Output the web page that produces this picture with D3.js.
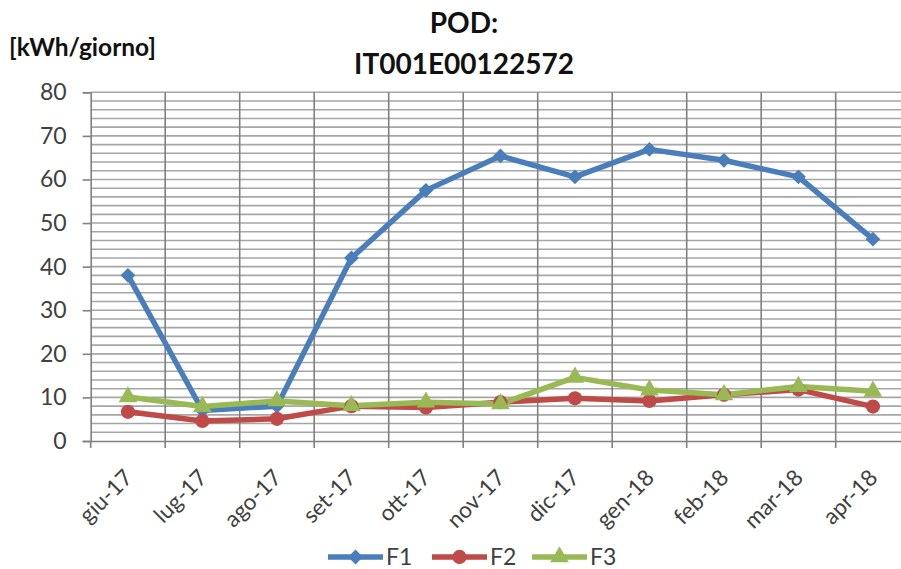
<!DOCTYPE html>
<html>
<head>
<meta charset="utf-8">
<script src="https://cdn.jsdelivr.net/npm/d3@7"></script>
<style>
  body { margin: 0; background: #fff; }
  svg { display: block; font-family: Lato, "Open Sans", sans-serif; }
</style>
</head>
<body>
<svg id="chart" width="901" height="569"></svg>
<script>
// Dati
const months = ["giu-17", "lug-17", "ago-17", "set-17", "ott-17", "nov-17", "dic-17", "gen-18", "feb-18", "mar-18", "apr-18"];
const f1 = [38, 7, 8, 42, 57.5, 65.4, 60.6, 66.9, 64.4, 60.6, 46.3];
const f2 = [6.7, 4.6, 5.1, 8.0, 7.7, 8.9, 9.8, 9.2, 10.6, 11.8, 7.9];
const f3 = [10.1, 7.9, 9.2, 8.1, 8.9, 8.5, 14.6, 11.7, 10.6, 12.5, 11.4];
const yTicks = [0, 10, 20, 30, 40, 50, 60, 70, 80];

// diamante = quadrato ruotato di 45 gradi
const series = [
  { name: "F1", values: f1, color: "#4A7EBB", symbol: d3.symbolSquare, size: 110, rot: 45 },
  { name: "F2", values: f2, color: "#BE4B48", symbol: d3.symbolCircle, size: 160, rot: 0 },
  { name: "F3", values: f3, color: "#98B954", symbol: d3.symbolTriangle, size: 150, rot: 0 },
];

const plotLeft = 90.7, plotTop = 92.3, plotBottom = 441, step = 74.5;
const plotRight = plotLeft + step * months.length;

const svg = d3.select("#chart");

const x = d3.scaleBand().domain(months).range([plotLeft, plotRight]);
const y = d3.scaleLinear().domain([0, 80]).range([plotBottom, plotTop]);

// griglia orizzontale (ogni 2)
svg.append("g")
  .selectAll("line")
  .data(d3.range(2, 81, 2))
  .join("line")
  .attr("x1", plotLeft).attr("x2", plotRight)
  .attr("y1", (d) => y(d)).attr("y2", (d) => y(d))
  .attr("stroke", "#a6a6a6")
  .attr("stroke-width", 1.6);

// griglia verticale
svg.append("g")
  .selectAll("line")
  .data(d3.range(1, months.length + 1))
  .join("line")
  .attr("x1", (d) => plotLeft + step * d)
  .attr("x2", (d) => plotLeft + step * d)
  .attr("y1", plotTop).attr("y2", plotBottom)
  .attr("stroke", "#808080")
  .attr("stroke-width", 1.6);

// asse Y
const yAxis = svg.append("g")
  .attr("transform", `translate(${plotLeft},0)`)
  .call(d3.axisLeft(y).tickValues(yTicks).tickSize(8).tickPadding(16));
yAxis.select(".domain").attr("stroke", "#808080").attr("stroke-width", 1.6);
yAxis.selectAll(".tick line").attr("stroke", "#808080").attr("stroke-width", 1.6);
yAxis.selectAll("text")
  .attr("fill", "#404040")
  .style("font-size", "23px")
  .style("font-family", "Lato, sans-serif");

// asse X
const xAxis = svg.append("g")
  .attr("transform", `translate(0,${plotBottom})`)
  .call(d3.axisBottom(x).tickSize(0).tickFormat(""));
xAxis.select(".domain").attr("stroke", "#808080").attr("stroke-width", 1.6);

svg.append("g")
  .selectAll("line")
  .data(d3.range(months.length + 1))
  .join("line")
  .attr("x1", (d) => plotLeft + step * d).attr("x2", (d) => plotLeft + step * d)
  .attr("y1", plotBottom).attr("y2", plotBottom + 7)
  .attr("stroke", "#808080")
  .attr("stroke-width", 1.6);

svg.append("g")
  .selectAll("text")
  .data(months)
  .join("text")
  .attr("transform", (d) => `translate(${x(d) + x.bandwidth() / 2 + 6},${plotBottom + 38}) rotate(-45)`)
  .attr("text-anchor", "end")
  .attr("fill", "#404040")
  .style("font-size", "22.5px")
  .text((d) => d);

// linee
const line = d3.line()
  .x((d, i) => x(months[i]) + x.bandwidth() / 2)
  .y((d) => y(d));

series.forEach((s) => {
  svg.append("path")
    .datum(s.values)
    .attr("fill", "none")
    .attr("stroke", s.color)
    .attr("stroke-width", 5.5)
    .attr("stroke-linejoin", "round")
    .attr("d", line);
});

series.forEach((s) => {
  const sym = d3.symbol().type(s.symbol).size(s.size);
  svg.append("g")
    .selectAll("path")
    .data(s.values)
    .join("path")
    .attr("transform", (d, i) => `translate(${x(months[i]) + x.bandwidth() / 2},${y(d)}) rotate(${s.rot})`)
    .attr("d", sym)
    .attr("fill", s.color);
});

// titolo
svg.append("text")
  .attr("x", 464).attr("y", 33)
  .attr("text-anchor", "middle")
  .style("font-size", "28px").style("font-weight", "bold")
  .attr("fill", "#111")
  .text("POD:");
svg.append("text")
  .attr("x", 464).attr("y", 74)
  .attr("text-anchor", "middle")
  .style("font-size", "28px").style("font-weight", "bold")
  .attr("fill", "#111")
  .text("IT001E00122572");

// unità
svg.append("text")
  .attr("x", 9).attr("y", 56)
  .style("font-size", "24.5px").style("font-weight", "bold")
  .attr("fill", "#111")
  .text("[kWh/giorno]");

// legenda
const legendX = [328, 432, 532];
series.forEach((s, i) => {
  const g = svg.append("g").attr("transform", `translate(${legendX[i]},557)`);
  g.append("line")
    .attr("x1", 0).attr("x2", 55)
    .attr("stroke", s.color).attr("stroke-width", 5.5);
  g.append("path")
    .attr("transform", `translate(27.5,0) rotate(${s.rot})`)
    .attr("d", d3.symbol().type(s.symbol).size(s.size))
    .attr("fill", s.color);
  g.append("text")
    .attr("x", 58).attr("y", 8)
    .attr("fill", "#404040")
    .style("font-size", "23px")
    .text(s.name);
});
</script>
</body>
</html>
